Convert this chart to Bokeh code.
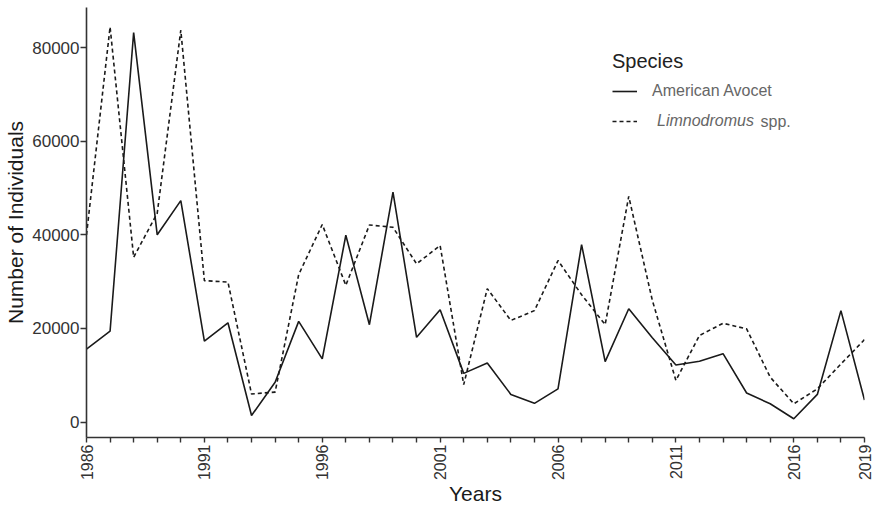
from bokeh.plotting import figure
from bokeh.models import (ColumnDataSource, Range1d, FixedTicker, Legend, LegendItem, Label)
from bokeh.embed import file_html
from bokeh.resources import INLINE
import math

# ---- data ----
years = list(range(1986, 2020))
avocet = [15600, 19400, 83200, 40000, 47300, 17300, 21200, 1400, 8500, 21500,
          13500, 39900, 20800, 49100, 18100, 24000, 10400, 12600, 5900, 4000,
          7100, 37900, 12900, 24200, 18000, 12200, 13000, 14600, 6200, 3900,
          700, 5900, 23800, 4700]
limnodromus = [40000, 84400, 35200, 44600, 83700, 30200, 29900, 6000, 6400, 31500,
               42200, 29200, 42100, 41600, 33800, 37700, 8000, 28500, 21700, 23800,
               34500, 27200, 20800, 48200, 26000, 8900, 18500, 21100, 19900, 9600,
               3900, 7100, 12400, 17600]
x_labeled = [1986, 1991, 1996, 2001, 2006, 2011, 2016, 2019]
y_ticks = [0, 20000, 40000, 60000, 80000]

src = ColumnDataSource(dict(year=years, avocet=avocet, limno=limnodromus))

FONT = "Liberation Sans"

p = figure(width=879, height=508, output_backend="svg", toolbar_location=None,
           x_range=Range1d(1986, 2019), y_range=Range1d(-3300, 88550),
           min_border_left=86, min_border_right=15, min_border_top=7, min_border_bottom=71)
p.grid.visible = False
p.outline_line_color = None
p.background_fill_color = "white"
p.border_fill_color = "white"

r1 = p.line("year", "avocet", source=src, line_color="#1a1a1a", line_width=1.6)
r2 = p.line("year", "limno", source=src, line_color="#1a1a1a", line_width=1.6, line_dash="4 3")

# axes
for ax in (p.xaxis[0], p.yaxis[0]):
    ax.axis_line_color = "#333333"
    ax.axis_line_width = 1.6
    ax.major_tick_line_color = "#333333"
    ax.major_tick_line_width = 1.4
    ax.major_tick_in = 0
    ax.minor_tick_line_color = None
    ax.major_label_text_font = FONT
    ax.major_label_text_color = "#333333"
    ax.axis_label_text_font = FONT
    ax.axis_label_text_color = "#1a1a1a"
    ax.axis_label_text_font_style = "normal"
    ax.axis_label_text_font_size = "21px"

p.xaxis.ticker = FixedTicker(ticks=years)
p.xaxis.major_label_overrides = {y: (str(y) if y in x_labeled else "") for y in years}
p.xaxis.major_label_orientation = math.pi / 2
p.xaxis.major_label_text_font_size = "16px"
p.xaxis.major_tick_out = 5
p.xaxis.major_label_standoff = 2
p.xaxis.axis_label = "Years"
p.xaxis.axis_label_standoff = -1

p.yaxis.ticker = FixedTicker(ticks=y_ticks)
p.yaxis.major_label_text_font_size = "17px"
p.yaxis.major_tick_out = 6
p.yaxis.major_label_standoff = 1
p.yaxis.axis_label = "Number of Individuals"
p.yaxis.axis_label_standoff = 2

# legend: two blocks so that the genus name can be italic
leg1 = Legend(items=[LegendItem(label="American Avocet", renderers=[r1])],
              title="Species", location=(526, 336),
              title_text_font=FONT, title_text_font_size="20px", title_text_color="#222222",
              title_text_font_style="normal", title_standoff=8,
              label_text_font=FONT, label_text_font_size="16px", label_text_color="#666666",
              glyph_width=25, glyph_height=20, label_height=20, label_standoff=15,
              padding=0, margin=0, spacing=0,
              border_line_color=None, background_fill_alpha=0)
leg2 = Legend(items=[LegendItem(label="Limnodromus", renderers=[r2])],
              location=(526, 306),
              label_text_font=FONT, label_text_font_size="16px", label_text_color="#666666",
              label_text_font_style="italic",
              glyph_width=25, glyph_height=20, label_height=20, label_standoff=20,
              padding=0, margin=0, spacing=0,
              border_line_color=None, background_fill_alpha=0)
p.add_layout(leg1, "center")
p.add_layout(leg2, "center")
p.add_layout(Label(x=674, y=316, x_units="screen", y_units="screen", text="spp.",
                   text_font=FONT, text_font_size="16px", text_color="#666666",
                   text_baseline="middle"))

open("out.html", "w").write(file_html(p, INLINE))
